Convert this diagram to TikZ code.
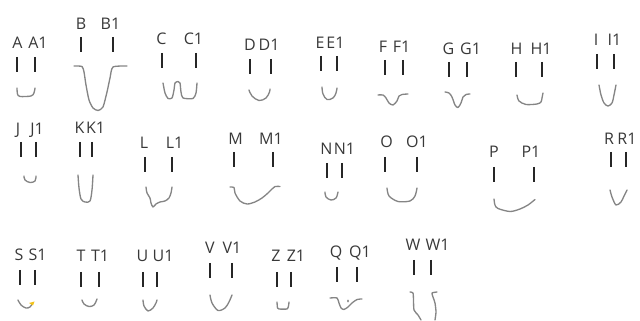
\documentclass[tikz,border=0pt]{standalone}
\usepackage{fontspec}
\setmainfont{Open Sans}
\usepackage{tikz}
\definecolor{inkgray}{HTML}{383838}
\definecolor{curvegray}{HTML}{858585}
\definecolor{dabyellow}{HTML}{F2C21B}

\begin{document}
\begin{tikzpicture}[x=0.6pt, y=-0.6pt, font=\fontsize{9.6}{11}\selectfont,
  lbl/.style={text=inkgray, inner sep=0pt, text height=1.33ex, text depth=0pt},
  tick/.style={draw=black!85, line width=0.95pt},
  mouth/.style={draw=curvegray, line width=0.8pt, line cap=round, line join=round}]
\useasboundingbox (0,0) rectangle (640,321);

% top row
\node[lbl] (A) at (17.5,43) {A};   \node[lbl] (A1) at (38,43) {A1};
\node[lbl] (B) at (81,24) {B};     \node[lbl] (B1) at (110.5,24) {B1};
\node[lbl] (C) at (161.5,39) {C};  \node[lbl] (C1) at (193.5,39) {C1};
\node[lbl] (D) at (250,45) {D};    \node[lbl] (D1) at (269,45) {D1};
\node[lbl] (E) at (320,43) {E};    \node[lbl] (E1) at (335.5,43) {E1};
\node[lbl] (F) at (383,47) {F};    \node[lbl] (F1) at (401.5,47) {F1};
\node[lbl] (G) at (448.5,49) {G};  \node[lbl] (G1) at (470.5,49) {G1};
\node[lbl] (H) at (516.5,49) {H};  \node[lbl] (H1) at (541,49) {H1};
\node[lbl] (I) at (596,40) {I};    \node[lbl] (I1) at (614.5,40) {I1};
% middle row
\node[lbl] (J) at (18,129) {J};    \node[lbl] (J1) at (37,129) {J1};
\node[lbl] (K) at (79.5,128) {K};  \node[lbl] (K1) at (95.5,128) {K1};
\node[lbl] (L) at (144,143) {L};   \node[lbl] (L1) at (174.5,143) {L1};
\node[lbl] (M) at (235.5,139) {M}; \node[lbl] (M1) at (271,139) {M1};
\node[lbl] (N) at (326.5,149) {N}; \node[lbl] (N1) at (344.5,149) {N1};
\node[lbl] (O) at (386.5,142) {O}; \node[lbl] (O1) at (417,142) {O1};
\node[lbl] (P) at (494,152) {P};   \node[lbl] (P1) at (531,152) {P1};
\node[lbl] (R) at (609,139) {R};   \node[lbl] (R1) at (627,139) {R1};
% bottom row
\node[lbl] (S) at (19,255) {S};    \node[lbl] (S1) at (37.5,255) {S1};
\node[lbl] (T) at (81,256) {T};    \node[lbl] (T1) at (100,256) {T1};
\node[lbl] (U) at (142.5,256) {U}; \node[lbl] (U1) at (163,256) {U1};
\node[lbl] (V) at (210,248) {V};   \node[lbl] (V1) at (232,248) {V1};
\node[lbl] (Z) at (276,256) {Z};   \node[lbl] (Z1) at (296,256) {Z1};
\node[lbl] (Q) at (336,252) {Q};   \node[lbl] (Q1) at (360,252) {Q1};
\node[lbl] (W) at (413,245) {W};   \node[lbl] (W1) at (437.5,245) {W1};

% tick pairs: left x / right x / top y
\foreach \xa/\xb/\ya in {17/35/57, 81/113/37, 162/196/53, 250/271/59, 321/337/56,
    385/403/60, 449/467/62, 516/542/62, 597/614/54,
    21/36/142, 80/92/142, 145/172/157, 234/273/152, 327/342/163, 385/417/157,
    494/534/167, 611/626/152,
    20/35/270, 81/99/272, 143/157/272, 210/232/263, 277/291/272, 337/357/267, 414/431/260}
  \draw[tick] (\xa,\ya) -- ++(0,15) (\xb,\ya) -- ++(0,15);

% mouths
\draw[mouth] plot[smooth, tension=0.5] coordinates {(17,88) (17.5,94) (20,96.5) (31,96) (34,93) (35,88)};
\draw[mouth] plot[smooth, tension=0.4] coordinates {(74,66) (82,66.5) (84,72) (86,85) (89,100) (93,108) (98,110.5) (103,107) (107,92) (110,78) (113,67) (127,66)};
\draw[mouth] plot[smooth, tension=0.4] coordinates {(163,83) (165,93) (168,98.5) (172,98) (174,90) (175,83) (178,81.5) (180,83) (181,92) (183,98) (193,98.5) (196,93) (197,83)};
\draw[mouth] plot[smooth, tension=0.6] coordinates {(249,90) (252,96) (259,100.5) (266,98) (269.5,92) (270,89)};
\draw[mouth] plot[smooth, tension=0.6] coordinates {(322,87) (323,94) (327,99.5) (333,98) (336,93) (337,88)};
\draw[mouth] plot[smooth, tension=0.5] coordinates {(378,95) (383,95) (386,98) (389,103) (393,105) (397,101) (399,96) (402,94.5) (408,94)};
\draw[mouth] plot[smooth, tension=0.5] coordinates {(445,92) (449,93) (452,97) (455,105) (458,107.5) (461,103) (463,97) (466,94.5) (470,94)};
\draw[mouth] plot[smooth, tension=0.5] coordinates {(517,95) (519,101) (526,104.5) (537,104) (541,102) (542,98) (543,93)};
\draw[mouth] plot[smooth, tension=0.5] coordinates {(599,85) (601,95) (604,103) (608,106) (612,103) (614,95) (616,85)};
\draw[mouth] plot[smooth, tension=0.6] coordinates {(24,176) (25,180) (30,182.5) (35,181) (36,176)};
\draw[mouth] plot[smooth, tension=0.5] coordinates {(78,175) (79,188) (81,199) (85,202) (90,201) (92,190) (93,175)};
\draw[mouth] plot[smooth, tension=0.5] coordinates {(146,187) (147,193) (150,198) (151,203) (153,207) (156,204) (160,202) (165,201) (169,198) (171,193) (172,187)};
\draw[mouth] plot[smooth, tension=0.5] coordinates {(230,187) (234,187.5) (235,193) (240,201) (247,204) (255,202) (262,198) (268,193) (272,189) (275,186.5) (280,186.5)};
\draw[mouth] plot[smooth, tension=0.6] coordinates {(325,192) (326,197) (331,200) (336,198) (338,192)};
\draw[mouth] plot[smooth, tension=0.5] coordinates {(387,188) (389,196) (398,201.5) (410,201) (415,196) (417,188)};
\draw[mouth] plot[smooth, tension=0.5] coordinates {(494,199) (495,205) (498,208.5) (510,211.5) (520,209) (528,205) (535,199.5)};
\draw[mouth] plot[smooth, tension=0.5] coordinates {(610,190) (612,197) (616,205) (621,202) (624,196) (627,190)};
\draw[mouth] plot[smooth, tension=0.6] coordinates {(18,300) (21,305) (26,308) (30,307) (32,304)};
\fill[dabyellow] (29,303) -- (34.5,301.5) -- (33,305.5) -- cycle;
\draw[mouth] plot[smooth, tension=0.6] coordinates {(82,300) (84,304) (89,306.5) (94,305) (97,299)};
\draw[mouth] plot[smooth, tension=0.5] coordinates {(143,300) (144,306) (148,311) (153,308) (156,303) (157,300)};
\draw[mouth] plot[smooth, tension=0.5] coordinates {(210,295) (212,303) (218,310.5) (225,308) (229,302) (232,295)};
\draw[mouth] plot[smooth, tension=0.4] coordinates {(277,302) (277.5,308) (279,309) (287,309) (288.5,306) (289,302)};
\draw[mouth] plot[smooth, tension=0.4] coordinates {(330,298) (337,298) (339,303) (341,308) (344,309.5) (348,307) (352,303) (357,299.5) (362,299)};
\fill[curvegray] (348,301) ellipse[x radius=1, y radius=1.6];
\draw[mouth] plot[smooth, tension=0.4] coordinates {(410,292) (413,293) (413.5,300) (414,310) (418,315) (421,320)};
\draw[mouth] plot[smooth, tension=0.4] coordinates {(437,292) (432,293) (433,297) (435,303) (436,312) (435,320)};
\end{tikzpicture}
\end{document}
